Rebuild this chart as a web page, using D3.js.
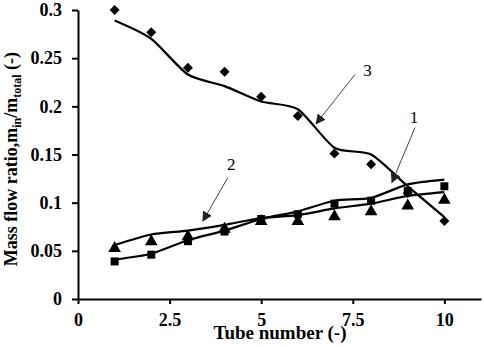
<!DOCTYPE html>
<html>
<head>
<meta charset="utf-8">
<script src="https://cdn.jsdelivr.net/npm/d3@7"></script>
<style>
  body { margin: 0; background: #fff; font-family: 'Liberation Serif', serif; }
  svg { display: block; }
</style>
</head>
<body>
<div id="chart"></div>
<script>
// tube index and measured / fitted mass flow ratios
const tubes = [1, 2, 3, 4, 5, 6, 7, 8, 9, 10]
const points1 = [0.039, 0.046, 0.06, 0.07, 0.083, 0.088, 0.099, 0.102, 0.112, 0.117]
const curve1 = [0.041, 0.047, 0.061, 0.071, 0.083, 0.091, 0.102, 0.105, 0.119, 0.124]
const points2 = [0.054, 0.061, 0.066, 0.074, 0.082, 0.082, 0.087, 0.092, 0.098, 0.104]
const curve2 = [0.056, 0.067, 0.071, 0.077, 0.084, 0.087, 0.094, 0.099, 0.107, 0.111]
const points3 = [0.3, 0.277, 0.24, 0.236, 0.21, 0.19, 0.151, 0.14, 0.11, 0.081]
const curve3 = [0.289, 0.27, 0.233, 0.221, 0.205, 0.197, 0.157, 0.15, 0.117, 0.085]

const xTicks = [0, 2.5, 5, 7.5, 10]
const yTicks = [0, 0.05, 0.1, 0.15, 0.2, 0.25, 0.3]

// callouts: label, label position, arrow start, arrow end (data units)
const callouts = [
  { label: '3', at: [7.9, 0.236], from: [7.56, 0.233], to: [6.5, 0.182] },
  { label: '1', at: [9.17, 0.187], from: [9.2, 0.178], to: [8.57, 0.121] },
  { label: '2', at: [4.18, 0.138], from: [4.09, 0.126], to: [3.41, 0.081] },
]

const serif = 'Liberation Serif'

const width = 484
const height = 347
const margin = { top: 10, right: 3, bottom: 48, left: 78 }

const svg = d3
  .select('#chart')
  .append('svg')
  .attr('width', width)
  .attr('height', height)
  .style('font-family', serif)

const chartCore = svg
  .append('g')
  .attr('transform', `translate(${margin.left},${margin.top})`)

const coreWidth = width - margin.left - margin.right
const coreHeight = height - margin.top - margin.bottom

const xScale = d3.scaleLinear().domain([0, 11]).range([0, coreWidth])
const yScale = d3.scaleLinear().domain([0, 0.3]).range([coreHeight, 0])

function styleAxis(g) {
  g.attr('font-family', null)
  g.select('.domain').attr('stroke', '#000').attr('stroke-width', 2)
  g.selectAll('.tick line').attr('stroke', '#000').attr('stroke-width', 2)
  g.selectAll('.tick text')
    .style('font-family', serif)
    .style('font-size', '18px')
    .style('font-weight', 'bold')
    .attr('fill', '#000')
}

// axes
chartCore
  .append('g')
  .attr('transform', `translate(0,${coreHeight})`)
  .call(
    d3
      .axisBottom(xScale)
      .tickValues(xTicks)
      .tickSize(5)
      .tickSizeOuter(0)
      .tickPadding(9)
      .tickFormat(d => d),
  )
  .call(styleAxis)

chartCore
  .append('g')
  .call(
    d3
      .axisLeft(yScale)
      .tickValues(yTicks)
      .tickSize(6)
      .tickSizeOuter(0)
      .tickPadding(10)
      .tickFormat(d => d),
  )
  .call(styleAxis)

// axis titles
svg
  .append('text')
  .attr('x', 280)
  .attr('y', 339)
  .attr('text-anchor', 'middle')
  .style('font-family', serif)
  .style('font-size', '19px')
  .style('font-weight', 'bold')
  .text('Tube number (-)')

const yTitle = svg
  .append('text')
  .attr('transform', 'translate(17,52) rotate(-90)')
  .attr('text-anchor', 'end')
  .style('font-family', serif)
  .style('font-size', '18px')
  .style('font-weight', 'bold')
yTitle.append('tspan').text('Mass flow ratio,m')
yTitle.append('tspan').style('font-size', '12px').attr('dy', 4).text('in')
yTitle.append('tspan').attr('dy', -4).text('/m')
yTitle.append('tspan').style('font-size', '12px').attr('dy', 4).text('total')
yTitle.append('tspan').attr('dy', -4).text(' (-)')

// smoothed fit lines
const line = d3
  .line()
  .x((d, i) => xScale(tubes[i]))
  .y(d => yScale(d))
  .curve(d3.curveCardinal.tension(0.3))

;[curve1, curve2, curve3].forEach(c => {
  chartCore
    .append('path')
    .attr('d', line(c))
    .attr('fill', 'none')
    .attr('stroke', '#000')
    .attr('stroke-width', 2.2)
})

// markers
const diamond = r => `M0,${-r}L${r},0L0,${r}L${-r},0Z`
const square = r => `M${-r},${-r}H${r}V${r}H${-r}Z`
const triangle = r => `M0,${-r * 1.1}L${r * 1.15},${r * 0.9}H${-r * 1.15}Z`

const markerSets = [
  { values: points1, shape: square(4) },
  { values: points2, shape: triangle(5.5) },
  { values: points3, shape: diamond(5) },
]

markerSets.forEach(ms => {
  chartCore
    .append('g')
    .selectAll('path')
    .data(ms.values)
    .join('path')
    .attr('transform', (d, i) => `translate(${xScale(tubes[i])},${yScale(d)})`)
    .attr('d', ms.shape)
    .attr('fill', '#000')
})

// callout arrows
svg
  .append('defs')
  .append('marker')
  .attr('id', 'arrowhead')
  .attr('viewBox', '0 0 10 10')
  .attr('refX', 9)
  .attr('refY', 5)
  .attr('markerWidth', 10)
  .attr('markerHeight', 10)
  .attr('markerUnits', 'userSpaceOnUse')
  .attr('orient', 'auto')
  .append('path')
  .attr('d', 'M0,0L10,5L0,10Z')
  .attr('fill', '#222')

callouts.forEach(c => {
  chartCore
    .append('line')
    .attr('x1', xScale(c.from[0]))
    .attr('y1', yScale(c.from[1]))
    .attr('x2', xScale(c.to[0]))
    .attr('y2', yScale(c.to[1]))
    .attr('stroke', '#444')
    .attr('stroke-width', 1)
    .attr('marker-end', 'url(#arrowhead)')

  chartCore
    .append('text')
    .attr('x', xScale(c.at[0]))
    .attr('y', yScale(c.at[1]))
    .attr('text-anchor', 'middle')
    .attr('dominant-baseline', 'middle')
    .style('font-family', serif)
    .style('font-size', '17px')
    .text(c.label)
})
</script>
</body>
</html>
